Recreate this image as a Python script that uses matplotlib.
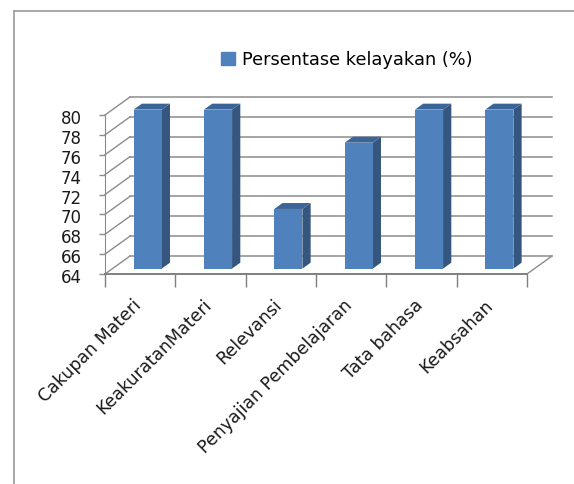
import matplotlib
matplotlib.use("Agg")
import matplotlib.pyplot as plt
from matplotlib.patches import Polygon
from matplotlib.lines import Line2D
import matplotlib.transforms as mtransforms
import numpy as np

kategori = ['Cakupan Materi', 'KeakuratanMateri', 'Relevansi',
            'Penyajian Pembelajaran', 'Tata bahasa', 'Keabsahan']
nilai = [80, 80, 70, 76.67, 80, 80]
label_seri = 'Persentase kelayakan (%)'
y_min, y_max, y_step = 64, 80, 2

# warna ala Excel
biru_depan = '#4f81bd'
biru_samping = '#34567f'
biru_atas = '#3c6597'
abu_grid = '#8c8c8c'

plt.rcParams['font.family'] = ['DejaVu Sans']

fig = plt.figure(figsize=(5.74, 4.84), dpi=100)
ax = fig.add_axes([105 / 574, 1 - 274 / 484, 422 / 574, 159 / 484])
ax.set_xlim(0, len(kategori))
ax.set_ylim(y_min, y_max)

# vektor kedalaman (efek 3D) dalam satuan data
DX = 25 / (422 / len(kategori))
DY = 18 / (159 / (y_max - y_min))
d_depan = 0.3     # posisi muka depan batang
d_batang = 0.33   # tebal batang
lebar = 0.4

yt = np.arange(y_min, y_max + 1, y_step)
n = len(kategori)

# dinding belakang dan dinding kiri
for v in yt:
    ax.plot([DX, n + DX], [v + DY, v + DY], color=abu_grid, lw=1.1,
            clip_on=False, zorder=1)
    ax.plot([0, DX], [v, v + DY], color=abu_grid, lw=1.0,
            clip_on=False, zorder=1)
# lantai
ax.plot([n, n + DX], [y_min, y_min + DY], color=abu_grid, lw=1.0,
        clip_on=False, zorder=1)

# batang
xs = np.arange(n) + 0.5
ox = d_depan * DX
oy = d_depan * DY
bx, by = d_batang * DX, d_batang * DY
for x, v in zip(xs, nilai):
    kiri, kanan = x + ox - lebar / 2, x + ox + lebar / 2
    bawah, atas = y_min + oy, v + oy
    samping = Polygon([(kanan, bawah), (kanan, atas), (kanan + bx, atas + by),
                       (kanan + bx, bawah + by)], closed=True,
                      facecolor=biru_samping, edgecolor='none',
                      clip_on=False, zorder=3)
    tutup = Polygon([(kiri, atas), (kanan, atas), (kanan + bx, atas + by),
                     (kiri + bx, atas + by)], closed=True,
                    facecolor=biru_atas, edgecolor='none',
                    clip_on=False, zorder=3)
    ax.add_patch(samping)
    ax.add_patch(tutup)
ax.bar(xs + ox, np.array(nilai) - y_min, bottom=y_min + oy, width=lebar,
       color=biru_depan, zorder=4, clip_on=False)

# sumbu
for s in ['top', 'right']:
    ax.spines[s].set_visible(False)
ax.spines['left'].set_color(abu_grid)
ax.spines['bottom'].set_color('#7f7f7f')
ax.spines['bottom'].set_linewidth(1.4)
ax.set_yticks(yt)
ax.set_yticklabels([str(v) for v in yt], fontsize=12, color='#1a1a1a')
ax.tick_params(axis='y', length=4, width=1, color=abu_grid, pad=13)
for lbl in ax.get_yticklabels():
    lbl.set_transform(lbl.get_transform() +
                      mtransforms.ScaledTranslation(0, -2 / 100, fig.dpi_scale_trans))

ax.set_xticks(xs)
ax.set_xticklabels(kategori, rotation=45, ha='right', fontsize=12.5,
                   color='#1a1a1a')
ax.set_xticks(np.arange(n + 1), minor=True)
ax.tick_params(axis='x', which='major', length=0, pad=16)
ax.tick_params(axis='x', which='minor', length=9, width=1, color='#7f7f7f')
for lbl in ax.get_xticklabels():
    lbl.set_transform(lbl.get_transform() +
                      mtransforms.ScaledTranslation(5 / 100, 0, fig.dpi_scale_trans))
ax.patch.set_visible(False)

# legenda
h = plt.Rectangle((0, 0), 1, 1, color=biru_depan)
fig.legend([h], [label_seri], loc='center', bbox_to_anchor=(347 / 574, 1 - 60 / 484),
           frameon=False, handlelength=0.75, handleheight=0.75, handletextpad=0.4,
           fontsize=12.8)

# bingkai
fig.add_artist(Line2D([14 / 574, 14 / 574], [0, 1 - 11 / 484], color='#999999', lw=1.2))
fig.add_artist(Line2D([14 / 574, 1], [1 - 11 / 484, 1 - 11 / 484], color='#999999', lw=1.2))

fig.savefig('out.png', dpi=100)
